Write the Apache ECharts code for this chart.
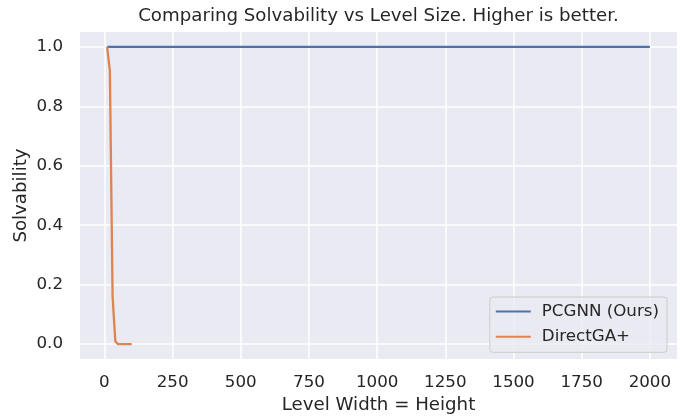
<!DOCTYPE html>
<html>
<head>
<meta charset="utf-8">
<script src="https://cdn.jsdelivr.net/npm/echarts@6/dist/echarts.min.js"></script>
<style>
html,body{margin:0;padding:0;background:#ffffff;}
#chart{width:684px;height:419px;}
</style>
</head>
<body>
<div id="chart"></div>
<script>
var titleText = "Comparing Solvability vs Level Size. Higher is better.";
var xName = "Level Width = Height";
var yName = "Solvability";
var seriesNames = ["PCGNN (Ours)", "DirectGA+"];
var pcgnnX = [10, 20, 30, 40, 50, 60, 70, 80, 90, 100, 250, 500, 750, 1000, 1250, 1500, 1750, 2000];
var pcgnnY = [1, 1, 1, 1, 1, 1, 1, 1, 1, 1, 1, 1, 1, 1, 1, 1, 1, 1];
var directX = [10, 20, 30, 40, 50, 60, 70, 80, 90, 100];
var directY = [1.0, 0.92, 0.16, 0.01, 0.0, 0.0, 0.0, 0.0, 0.0, 0.0];
var xTicks = [0, 250, 500, 750, 1000, 1250, 1500, 1750, 2000];
var yTicks = [0.0, 0.2, 0.4, 0.6, 0.8, 1.0];

function zip(xs, ys) { return xs.map(function (x, i) { return [x, ys[i]]; }); }

var textColor = '#262626';
var font = 'DejaVu Sans';
var chart = echarts.init(document.getElementById('chart'), null, {renderer: 'canvas'});
chart.setOption({
  backgroundColor: '#ffffff',
  animation: false,
  textStyle: {fontFamily: font, color: textColor},
  title: {
    text: titleText, left: 378.5, top: 7, padding: 0, textAlign: 'center',
    textStyle: {fontFamily: font, fontSize: 18.2, fontWeight: 'normal', color: textColor}
  },
  grid: {left: 80, right: 7, top: 32, bottom: 59, show: true, backgroundColor: '#EAEAF2', borderWidth: 0},
  legend: {
    orient: 'vertical', right: 17, top: 297,
    padding: [6, 8, 7, 6], itemGap: 8.3, itemWidth: 35, itemHeight: 2,
    backgroundColor: 'rgba(234,234,242,0.8)', borderColor: '#cccccc', borderWidth: 1, borderRadius: 3,
    icon: 'rect',
    textStyle: {fontFamily: font, fontSize: 16.7, color: textColor, padding: [0, 0, 0, 6]},
    data: seriesNames
  },
  xAxis: {
    type: 'value', min: -89.5, max: 2099.5,
    name: xName, nameLocation: 'middle', nameGap: 37,
    nameTextStyle: {fontFamily: font, fontSize: 18.2, color: textColor},
    axisLine: {show: false},
    axisTick: {show: false, customValues: xTicks},
    axisLabel: {customValues: xTicks, fontFamily: font, fontSize: 16.7, color: textColor, margin: 15,
      formatter: function (v) { return String(v); }},
    splitLine: {show: true, customValues: xTicks, lineStyle: {color: '#ffffff', width: 1.5}}
  },
  yAxis: {
    type: 'value', min: -0.05, max: 1.05,
    name: yName, nameLocation: 'middle', nameGap: 50, nameRotate: 90, nameMoveOverlap: false,
    nameTextStyle: {fontFamily: font, fontSize: 18.2, color: textColor},
    axisLine: {show: false},
    axisTick: {show: false, customValues: yTicks},
    axisLabel: {customValues: yTicks, fontFamily: font, fontSize: 16.7, color: textColor, margin: 17,
      formatter: function (v) { return v.toFixed(1); }},
    splitLine: {show: true, customValues: yTicks, lineStyle: {color: '#ffffff', width: 1.5}}
  },
  series: [
    {name: seriesNames[0], type: 'line', data: zip(pcgnnX, pcgnnY), showSymbol: false, symbol: 'none',
     lineStyle: {color: '#4C72B0', width: 2.3}, itemStyle: {color: '#4C72B0'}},
    {name: seriesNames[1], type: 'line', data: zip(directX, directY), showSymbol: false, symbol: 'none',
     lineStyle: {color: '#DD8452', width: 2.3}, itemStyle: {color: '#DD8452'}}
  ]
});
</script>
</body>
</html>
